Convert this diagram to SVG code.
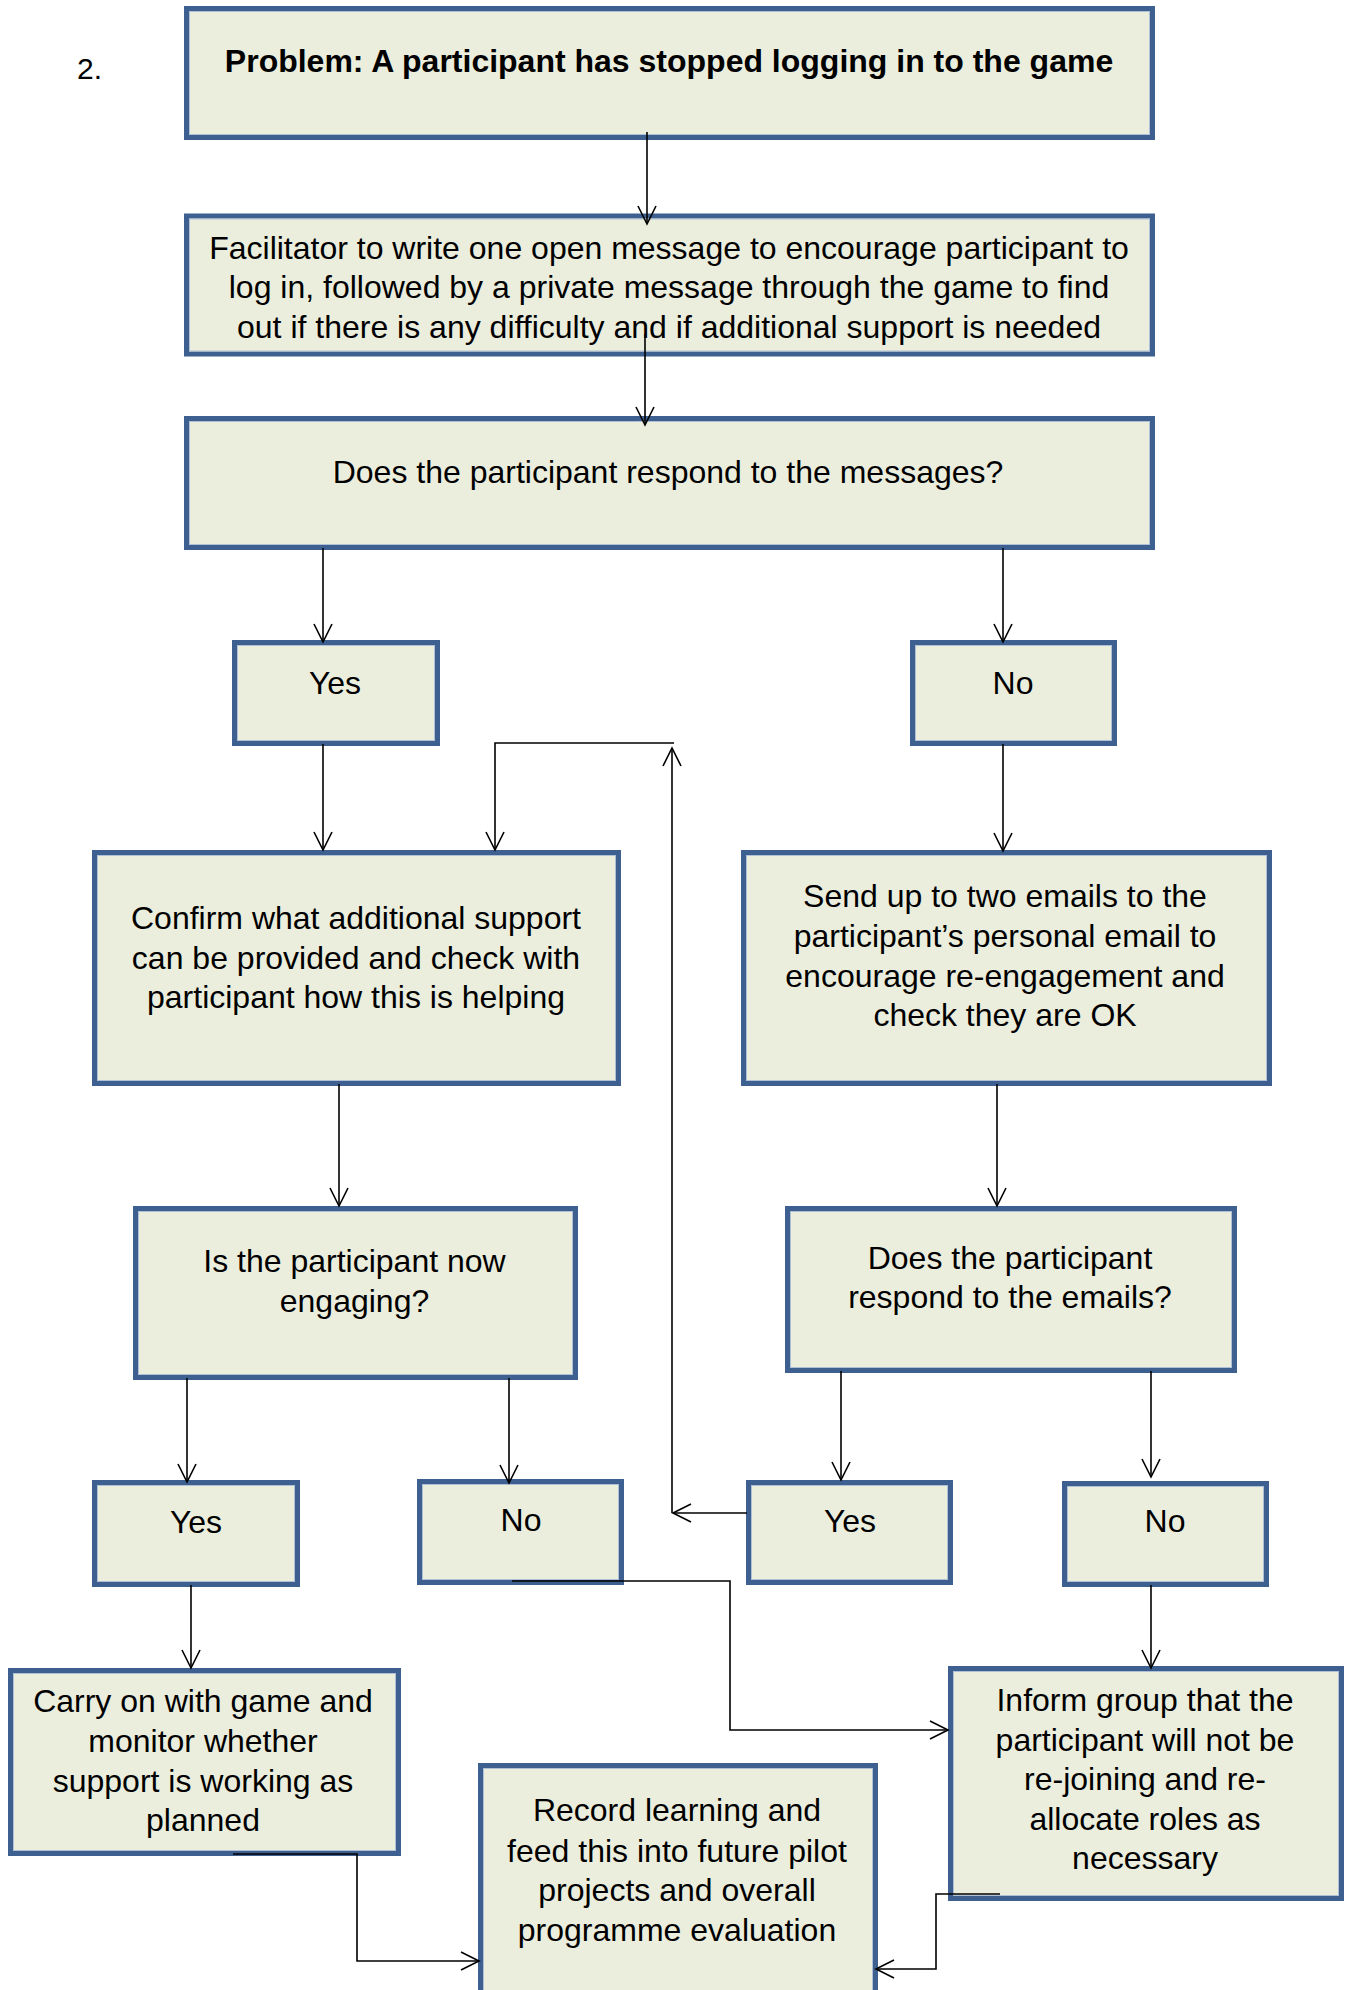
<svg xmlns="http://www.w3.org/2000/svg" width="1346" height="1990" viewBox="0 0 1346 1990">
<style>
.box{fill:#EBEEDD;stroke:#3D6090;stroke-width:5}
.inner{fill:none;stroke:#AFC0D6;stroke-width:1}
text{font-family:"Liberation Sans",Arial,sans-serif;font-size:32px;fill:#000;text-anchor:middle}
.b{font-weight:bold}
.c{fill:none;stroke:#000;stroke-width:1.6}
</style>
<defs>
<marker id="ah" markerUnits="userSpaceOnUse" markerWidth="24" markerHeight="24" viewBox="-20 -12 24 24" refX="0" refY="0" orient="auto" overflow="visible">
<path d="M-18,-9 L0,0 L-18,9" fill="none" stroke="#000" stroke-width="1.6"/>
</marker>
</defs>
<rect width="1346" height="1990" fill="#fff"/>
<text x="77" y="79" style="text-anchor:start;font-size:30px">2.</text>

<g id="n1"><rect class="box" x="186.5" y="8.5" width="966" height="129"/><rect class="inner" x="189.5" y="11.5" width="960" height="123"/>
<text class="b" x="669" y="72">Problem: A participant has stopped logging in to the game</text></g>

<g id="n2"><rect class="box" x="186.5" y="216" width="966" height="138"/><rect class="inner" x="189.5" y="219" width="960" height="132"/>
<text x="669" y="258.5">Facilitator to write one open message to encourage participant to</text>
<text x="669" y="298">log in, followed by a private message through the game to find</text>
<text x="669" y="337.5">out if there is any difficulty and if additional support is needed</text></g>

<g id="n3"><rect class="box" x="186.5" y="418.5" width="966" height="129"/><rect class="inner" x="189.5" y="421.5" width="960" height="123"/>
<text x="668" y="482.5">Does the participant respond to the messages?</text></g>

<g id="n4"><rect class="box" x="234.5" y="642.5" width="203" height="101"/><rect class="inner" x="237.5" y="645.5" width="197" height="95"/>
<text x="335" y="693.5">Yes</text></g>

<g id="n5"><rect class="box" x="912.5" y="642.5" width="202" height="101"/><rect class="inner" x="915.5" y="645.5" width="196" height="95"/>
<text x="1013" y="693.5">No</text></g>

<g id="n6"><rect class="box" x="94.5" y="852.5" width="524" height="231"/><rect class="inner" x="97.5" y="855.5" width="518" height="225"/>
<text x="356" y="929">Confirm what additional support</text>
<text x="356" y="968.5">can be provided and check with</text>
<text x="356" y="1007.5">participant how this is helping</text></g>

<g id="n7"><rect class="box" x="743.5" y="852.5" width="526" height="231"/><rect class="inner" x="746.5" y="855.5" width="520" height="225"/>
<text x="1005" y="906.5">Send up to two emails to the</text>
<text x="1005" y="946.5">participant’s personal email to</text>
<text x="1005" y="986.5">encourage re-engagement and</text>
<text x="1005" y="1026">check they are OK</text></g>

<g id="n8"><rect class="box" x="135.5" y="1208.5" width="440" height="169"/><rect class="inner" x="138.5" y="1211.5" width="434" height="163"/>
<text x="354.5" y="1272">Is the participant now</text>
<text x="354.5" y="1312">engaging?</text></g>

<g id="n9"><rect class="box" x="787.5" y="1208.5" width="447" height="162"/><rect class="inner" x="790.5" y="1211.5" width="441" height="156"/>
<text x="1010" y="1268.5">Does the participant</text>
<text x="1010" y="1307.5">respond to the emails?</text></g>

<g id="n10"><rect class="box" x="94.5" y="1482.5" width="203" height="102"/><rect class="inner" x="97.5" y="1485.5" width="197" height="96"/>
<text x="196" y="1532.5">Yes</text></g>

<g id="n11"><rect class="box" x="419.5" y="1481.5" width="202" height="101"/><rect class="inner" x="422.5" y="1484.5" width="196" height="95"/>
<text x="521" y="1530.5">No</text></g>

<g id="n12"><rect class="box" x="748.5" y="1482.5" width="202" height="100"/><rect class="inner" x="751.5" y="1485.5" width="196" height="94"/>
<text x="850" y="1531.5">Yes</text></g>

<g id="n13"><rect class="box" x="1064.5" y="1483.5" width="202" height="101"/><rect class="inner" x="1067.5" y="1486.5" width="196" height="95"/>
<text x="1165" y="1531.5">No</text></g>

<g id="n14"><rect class="box" x="10.5" y="1670.5" width="388" height="183"/><rect class="inner" x="13.5" y="1673.5" width="382" height="177"/>
<text x="203" y="1712">Carry on with game and</text>
<text x="203" y="1752">monitor whether</text>
<text x="203" y="1791.5">support is working as</text>
<text x="203" y="1830.5">planned</text></g>

<g id="n15"><rect class="box" x="950.5" y="1668.5" width="391" height="230"/><rect class="inner" x="953.5" y="1671.5" width="385" height="224"/>
<text x="1145" y="1711">Inform group that the</text>
<text x="1145" y="1750.5">participant will not be</text>
<text x="1145" y="1789.5">re-joining and re-</text>
<text x="1145" y="1829.5">allocate roles as</text>
<text x="1145" y="1869">necessary</text></g>

<g id="n16"><rect class="box" x="480.5" y="1765.5" width="395" height="240"/><rect class="inner" x="483.5" y="1768.5" width="389" height="234"/>
<text x="677" y="1821">Record learning and</text>
<text x="677" y="1861.5">feed this into future pilot</text>
<text x="677" y="1901">projects and overall</text>
<text x="677" y="1940.5">programme evaluation</text></g>

<g id="connectors">
<path class="c" d="M647,132 L647,224" marker-end="url(#ah)"/>
<path class="c" d="M645,334 L645,425" marker-end="url(#ah)"/>
<path class="c" d="M323,548 L323,642" marker-end="url(#ah)"/>
<path class="c" d="M1003,548 L1003,642" marker-end="url(#ah)"/>
<path class="c" d="M323,744 L323,850" marker-end="url(#ah)"/>
<path class="c" d="M1003,744 L1003,851" marker-end="url(#ah)"/>
<path class="c" d="M674,743 L495,743 L495,850" marker-end="url(#ah)"/>
<path class="c" d="M672,1513 L672,748" marker-end="url(#ah)"/>
<path class="c" d="M747,1513 L673,1513" marker-end="url(#ah)"/>
<path class="c" d="M339,1084 L339,1206" marker-end="url(#ah)"/>
<path class="c" d="M997,1084 L997,1206" marker-end="url(#ah)"/>
<path class="c" d="M187,1378 L187,1482" marker-end="url(#ah)"/>
<path class="c" d="M509,1378 L509,1483" marker-end="url(#ah)"/>
<path class="c" d="M841,1371 L841,1480" marker-end="url(#ah)"/>
<path class="c" d="M1151,1371 L1151,1477" marker-end="url(#ah)"/>
<path class="c" d="M191,1585 L191,1668" marker-end="url(#ah)"/>
<path class="c" d="M1151,1585 L1151,1668" marker-end="url(#ah)"/>
<path class="c" d="M512,1581 L730,1581 L730,1730 L948,1730" marker-end="url(#ah)"/>
<path class="c" d="M233,1854 L357,1854 L357,1961 L479,1961" marker-end="url(#ah)"/>
<path class="c" d="M1000,1894 L936,1894 L936,1969 L876,1969" marker-end="url(#ah)"/>
</g>
</svg>
